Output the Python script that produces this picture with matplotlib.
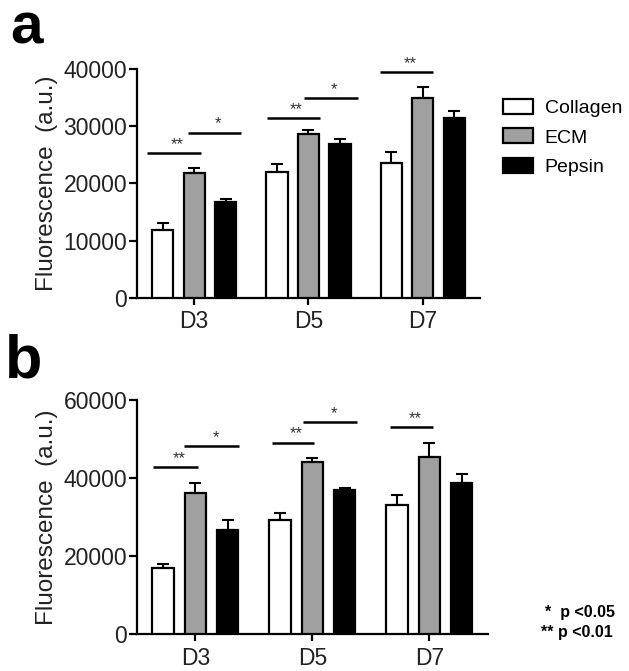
"""Fluorescence bar charts for Collagen / ECM / Pepsin over days."""

import matplotlib
matplotlib.use("Agg")
import matplotlib.pyplot as plt
from matplotlib.patches import Patch
import numpy as np

plt.rcParams['font.family'] = ['Liberation Sans', 'DejaVu Sans']

days = ['D3', 'D5', 'D7']
groups = ['Collagen', 'ECM', 'Pepsin']
fills = ['white', '#a0a0a0', 'black']

# panel a
a_means = {
    'Collagen': [11800, 22000, 23500],
    'ECM': [21800, 28700, 34900],
    'Pepsin': [16800, 26900, 31400],
}
a_errs = {
    'Collagen': [1300, 1400, 2000],
    'ECM': [900, 700, 1900],
    'Pepsin': [500, 900, 1300],
}
# (x start, x end, y, label)
a_sig = [(-0.415, 0.057, 25400, '**'), (-0.057, 0.407, 28900, '*'),
         (0.634, 1.100, 31400, '**'), (0.961, 1.430, 35000, '*'),
         (1.625, 2.091, 39500, '**')]

# panel b
b_means = {
    'Collagen': [16900, 29200, 33100],
    'ECM': [36100, 44200, 45300],
    'Pepsin': [26800, 36900, 38800],
}
b_errs = {
    'Collagen': [1000, 1900, 2600],
    'ECM': [2700, 1000, 3600],
    'Pepsin': [2400, 600, 2200],
}
b_sig = [(-0.361, 0.018, 42900, '**'), (-0.094, 0.376, 48200, '*'),
         (0.653, 1.017, 49100, '**'), (0.918, 1.384, 54400, '*'),
         (1.663, 2.033, 53100, '**')]


def draw_panel(ax, means, errs, sig, ymax, step):
    x = np.arange(len(days))
    offset, width = 0.275, 0.185
    for k, g in enumerate(groups):
        xs = x + (k - 1) * offset
        ax.bar(xs, means[g], width=width, color=fills[k], edgecolor='black',
               linewidth=1.6, zorder=3)
        yerr = np.vstack([np.zeros(len(days)), errs[g]])
        ax.errorbar(xs, means[g], yerr=yerr, fmt='none', ecolor='black',
                    elinewidth=1.5, capsize=4, capthick=1.5, zorder=2)

    for x0, x1, y, lab in sig:
        ax.plot([x0, x1], [y, y], color='black', lw=1.8, solid_capstyle='butt',
                clip_on=False)
        ax.text((x0 + x1) / 2 + 0.03, y + ymax * 0.004, lab, ha='center',
                va='bottom', fontsize=12, color='#333333')

    ax.set_xlim(-0.5, 2.5)
    ax.set_ylim(0, ymax)
    ax.set_yticks(np.arange(0, ymax + 1, step))
    ax.set_xticks(x)
    ax.set_xticklabels(days)
    ax.set_ylabel('Fluorescence  (a.u.)', fontsize=17.5, labelpad=4, color='#222222')
    for s in ['top', 'right']:
        ax.spines[s].set_visible(False)
    for s in ['left', 'bottom']:
        ax.spines[s].set_linewidth(1.6)
    ax.tick_params(axis='y', length=6, width=1.6, pad=1, labelsize=16.5,
                   labelcolor='#222222')
    ax.tick_params(axis='x', length=5, width=1.6, pad=4, labelsize=16.5,
                   labelcolor='#222222')


fig = plt.figure(figsize=(6.29, 6.71), dpi=100)
ax_a = fig.add_axes([0.2178, 0.5559, 0.5453, 0.3413])
ax_b = fig.add_axes([0.2178, 0.0551, 0.5580, 0.3487])

draw_panel(ax_a, a_means, a_errs, a_sig, 40000, 10000)
draw_panel(ax_b, b_means, b_errs, b_sig, 60000, 20000)

fig.text(10 / 629, 1 - 44 / 671, 'a', fontsize=42, fontweight='bold', va='baseline')
fig.text(5 / 629, 1 - 377 / 671, 'b', fontsize=44, fontweight='bold', va='baseline')

handles = [Patch(facecolor=fills[k], edgecolor='black', linewidth=1.6)
           for k in range(len(groups))]
fig.legend(handles, groups, loc='upper left',
           bbox_to_anchor=(503 / 629, 1 - 99 / 671), frameon=False,
           fontsize=14, handlelength=1.55, handleheight=0.8, handletextpad=0.6,
           labelspacing=0.58, borderpad=0, borderaxespad=0)

fig.text(545 / 629, 1 - 613 / 671, '*  p <0.05', fontsize=11.5, fontweight='bold',
         va='center', ha='left')
fig.text(541 / 629, 1 - 633 / 671, '** p <0.01', fontsize=11.5, fontweight='bold',
         va='center', ha='left')

fig.savefig('out.png', dpi=100, facecolor='white')
